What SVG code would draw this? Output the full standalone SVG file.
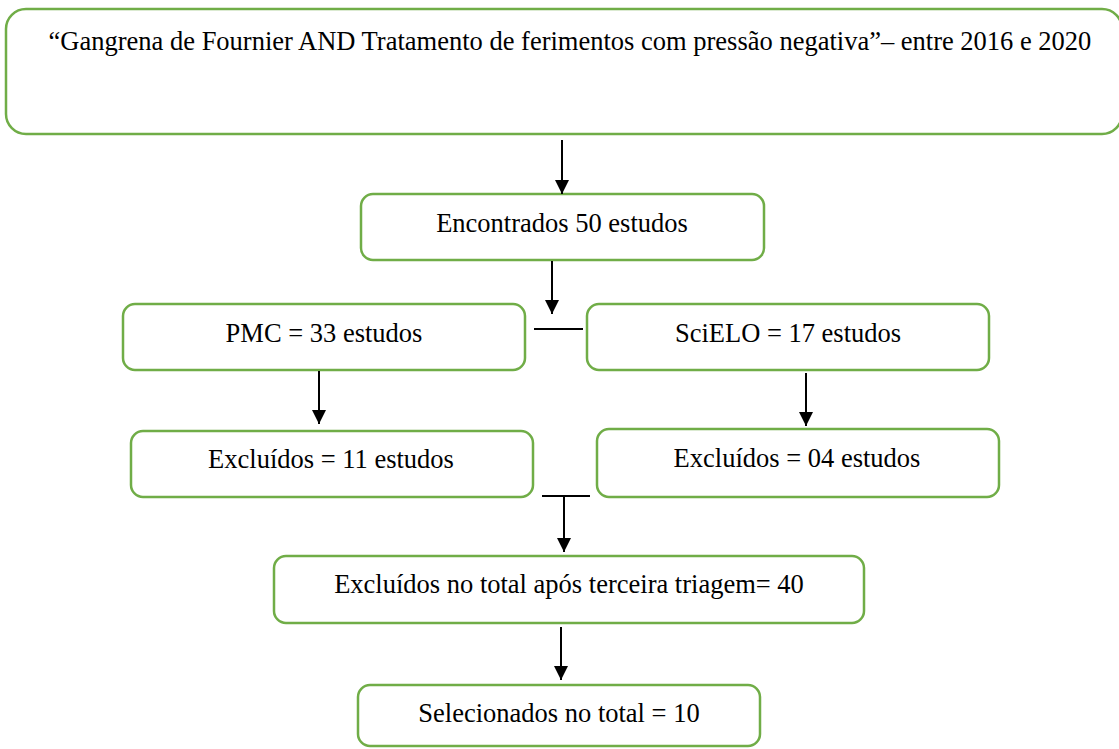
<svg xmlns="http://www.w3.org/2000/svg" width="1119" height="749" viewBox="0 0 1119 749">
<style>
.box{fill:#fff;stroke:#70AD47;stroke-width:2.5}
.c{stroke:#000;stroke-width:2;fill:none}
</style>
<defs>
<marker id="ah" markerUnits="userSpaceOnUse" markerWidth="14" markerHeight="14" refX="14" refY="7" orient="auto">
<path d="M0,0 L14,7 L0,14 Z" fill="#000"/>
</marker>
</defs>
<rect width="1119" height="749" fill="#fff"/>
<g font-family="Liberation Serif" font-size="26.5" fill="#000" text-anchor="middle">
<g id="n-query">
<rect class="box" x="6" y="9" width="1116" height="125" rx="20"/>
<text x="570" y="50">“Gangrena de Fournier AND Tratamento de ferimentos com pressão negativa”– entre 2016 e 2020</text>
</g>
<g id="n-found">
<rect class="box" x="361" y="194" width="403" height="66" rx="12"/>
<text x="562" y="232">Encontrados 50 estudos</text>
</g>
<g id="n-pmc">
<rect class="box" x="123" y="304" width="402" height="66" rx="12"/>
<text x="324" y="342">PMC = 33 estudos</text>
</g>
<g id="n-scielo">
<rect class="box" x="587" y="304" width="402" height="66" rx="12"/>
<text x="788" y="342">SciELO = 17 estudos</text>
</g>
<g id="n-excl11">
<rect class="box" x="131" y="431" width="402" height="66" rx="12"/>
<text x="331" y="468">Excluídos = 11 estudos</text>
</g>
<g id="n-excl04">
<rect class="box" x="597" y="429" width="402" height="68" rx="12"/>
<text x="797" y="467">Excluídos = 04 estudos</text>
</g>
<g id="n-total">
<rect class="box" x="274" y="556" width="590" height="67" rx="12"/>
<text x="569" y="593">Excluídos no total após terceira triagem= 40</text>
</g>
<g id="n-selected">
<rect class="box" x="358" y="685" width="402" height="61" rx="12"/>
<text x="559" y="722">Selecionados no total = 10</text>
</g>
</g>
<g id="connectors">
<line class="c" x1="562" y1="140" x2="562" y2="194" marker-end="url(#ah)"/>
<line class="c" x1="552" y1="261" x2="552" y2="314" marker-end="url(#ah)"/>
<line class="c" x1="534" y1="329" x2="583" y2="329"/>
<line class="c" x1="319" y1="371" x2="319" y2="424" marker-end="url(#ah)"/>
<line class="c" x1="806" y1="373" x2="806" y2="426" marker-end="url(#ah)"/>
<line class="c" x1="542" y1="496" x2="590" y2="496"/>
<line class="c" x1="564" y1="497" x2="564" y2="552" marker-end="url(#ah)"/>
<line class="c" x1="561" y1="627" x2="561" y2="680" marker-end="url(#ah)"/>
</g>
</svg>
